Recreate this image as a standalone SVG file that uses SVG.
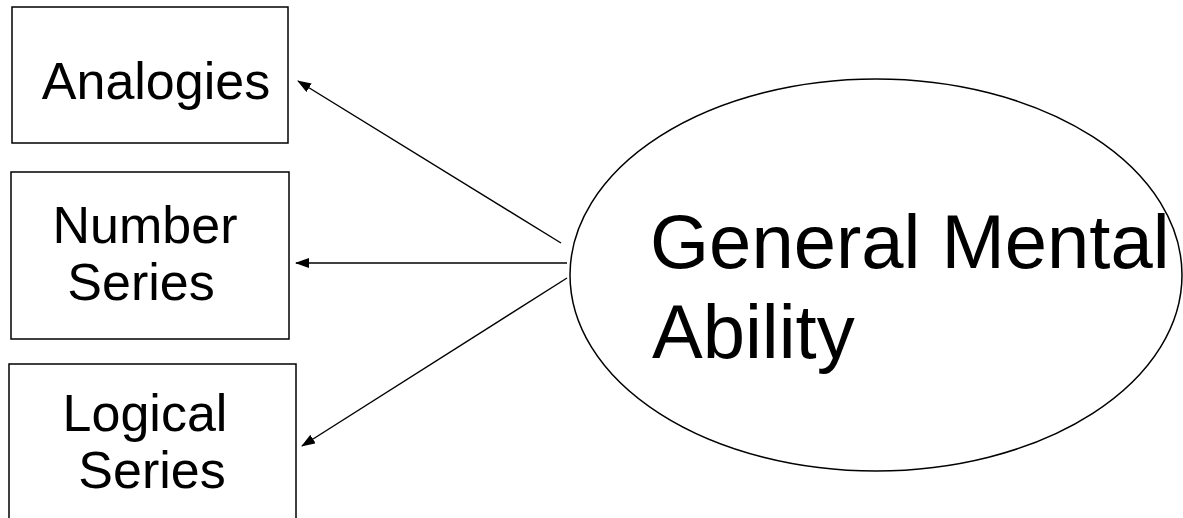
<svg xmlns="http://www.w3.org/2000/svg" width="1183" height="518" viewBox="0 0 1183 518">
<style>
.box{fill:#fff;stroke:#000;stroke-width:1.5}
.lbl{font-family:"Liberation Sans",Arial,sans-serif;font-size:52px;fill:#000;text-anchor:middle}
.big{font-family:"Liberation Sans",Arial,sans-serif;font-size:76px;fill:#000}
.conn{stroke:#000;stroke-width:1.4;fill:none;marker-end:url(#ah)}
</style>
<defs>
<marker id="ah" viewBox="0 0 14 10" refX="13" refY="5" markerWidth="14" markerHeight="10" markerUnits="userSpaceOnUse" orient="auto">
<path d="M0,0 L14,5 L0,10 Z" fill="#000"/>
</marker>
</defs>
<rect width="1183" height="518" fill="#fff"/>
<g id="analogies">
<rect class="box" x="12" y="7" width="276" height="136"/>
<text class="lbl" x="156" y="99">Analogies</text>
</g>
<g id="number-series">
<rect class="box" x="11" y="172" width="278" height="167"/>
<text class="lbl" x="145" y="243">Number</text>
<text class="lbl" x="141" y="300">Series</text>
</g>
<g id="logical-series">
<rect class="box" x="9" y="364" width="287" height="170"/>
<text class="lbl" x="145" y="431">Logical</text>
<text class="lbl" x="152" y="488">Series</text>
</g>
<g id="gma">
<ellipse cx="876" cy="275" rx="306" ry="196" fill="none" stroke="#000" stroke-width="1.5"/>
<text class="big" x="650" y="268">General Mental</text>
<text class="big" x="652" y="358">Ability</text>
</g>
<g id="connectors">
<line class="conn" x1="561" y1="243" x2="298" y2="81"/>
<line class="conn" x1="567" y1="263" x2="296" y2="263"/>
<line class="conn" x1="567" y1="278" x2="302" y2="446"/>
</g>
</svg>
